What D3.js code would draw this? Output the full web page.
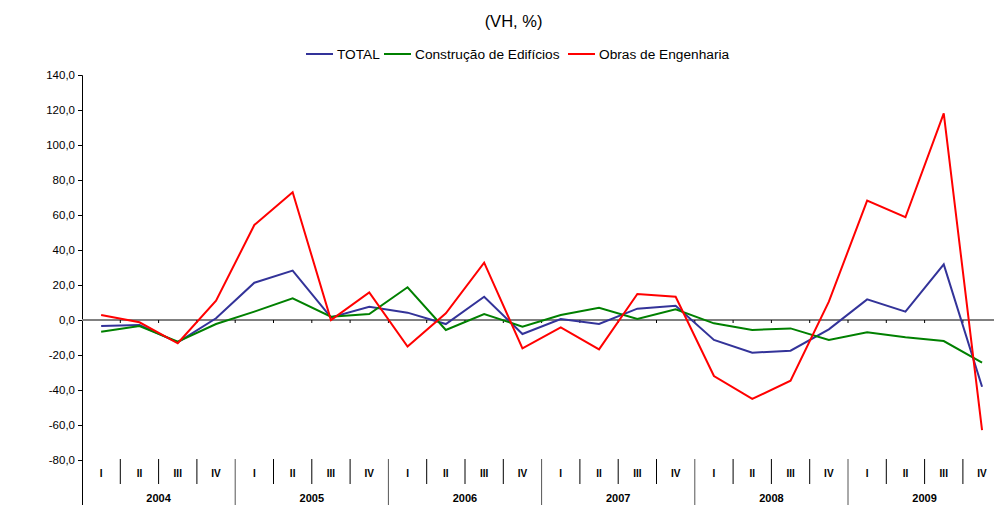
<!DOCTYPE html>
<html>
<head>
<meta charset="utf-8">
<script src="https://cdn.jsdelivr.net/npm/d3@7"></script>
<style>
  body { margin: 0; background: #fff; }
  svg { font-family: Arial, "Liberation Sans", sans-serif; }
</style>
</head>
<body>
<svg width="994" height="505"></svg>
<script>
var years = ["2004", "2005", "2006", "2007", "2008", "2009"]
var quarters = ["I", "II", "III", "IV"]
var seriesNames = ["TOTAL", "Construção de Edifícios", "Obras de Engenharia"]
var yTicks = [-80, -60, -40, -20, 0, 20, 40, 60, 80, 100, 120, 140]

var total = [-3.4, -2.9, -12.8, 1.0, 21.3, 28.2, 1.5, 7.6, 4.2, -2.3, 13.3, -8.0,
             0.6, -2.3, 6.5, 8.2, -11.4, -18.7, -17.5, -5.3, 11.8, 4.8, 31.8, -38.1]
var edificios = [-6.7, -3.4, -12.4, -2.3, 4.8, 12.4, 1.9, 3.4, 18.7, -5.7, 3.4, -3.8,
                 2.9, 7.0, 0.6, 6.1, -1.9, -5.7, -4.8, -11.4, -7.0, -9.9, -12.0, -24.4]
var engenharia = [2.9, -1.3, -13.3, 11.0, 54.3, 73.0, 0.0, 15.8, -15.2, 3.8, 32.8, -16.2,
                  -4.2, -16.8, 14.9, 13.3, -32.0, -45.1, -34.7, 10.5, 68.2, 58.7, 118.1, -62.9]

var colors = ["#333399", "#008000", "#ff0000"]
var series = [total, edificios, engenharia]

// one category per quarter
var cats = []
years.forEach(function(y){ quarters.forEach(function(q){ cats.push(y + "-" + q) }) })

var left = 82, bandW = 38.3
var xs = d3.scaleBand().domain(cats).range([left, left + cats.length * bandW])
var ys = d3.scaleLinear().domain([-105.7, 140]).range([505, 75])

var svg = d3.select("svg")

// title and legend
svg.append("text").attr("x", 513.5).attr("y", 27).attr("text-anchor", "middle")
  .attr("font-size", 16.5).attr("fill", "#000").text("(VH, %)")

var legX = [306, 384, 568]
var leg = svg.append("g")
seriesNames.forEach(function(name, i){
  leg.append("line").attr("x1", legX[i]).attr("x2", legX[i] + 27)
    .attr("y1", 54).attr("y2", 54).attr("stroke", colors[i]).attr("stroke-width", 2)
  leg.append("text").attr("x", legX[i] + 31).attr("y", 58.5)
    .attr("font-size", 13.7).attr("fill", "#000").text(name)
})

// y axis
var yAxis = svg.append("g").attr("transform", "translate(" + left + ",0)")
  .call(d3.axisLeft(ys).tickValues(yTicks).tickSizeOuter(0).tickSize(4).tickPadding(3)
    .tickFormat(function(d){ return d3.format(".1f")(d).replace(".", ",").replace("−", "-") }))
yAxis.select(".domain").attr("stroke", "#000")
yAxis.selectAll("text").attr("font-size", 11.5).attr("fill", "#000").attr("font-family", "Arial, 'Liberation Sans', sans-serif")

// zero line with small ticks at category boundaries
svg.append("line").attr("x1", left).attr("x2", 994).attr("y1", ys(0)).attr("y2", ys(0))
  .attr("stroke", "#808080").attr("stroke-width", 2)
svg.append("g").selectAll("line").data(cats.slice(1)).enter().append("line")
  .attr("x1", function(d){ return xs(d) }).attr("x2", function(d){ return xs(d) })
  .attr("y1", ys(0)).attr("y2", ys(0) + 3)
  .attr("stroke", "#000").attr("stroke-width", 1)

// multi-level category labels
var lab = svg.append("g")
lab.selectAll("text.q").data(cats).enter().append("text").attr("class", "q")
  .attr("x", function(d){ return xs(d) + xs.bandwidth() / 2 }).attr("y", 477)
  .attr("text-anchor", "middle").attr("font-size", 10).attr("font-weight", "bold")
  .text(function(d){ return d.split("-")[1] })
lab.selectAll("line.sep").data(cats.slice(1)).enter().append("line").attr("class", "sep")
  .attr("x1", function(d){ return xs(d) }).attr("x2", function(d){ return xs(d) })
  .attr("y1", 459)
  .attr("y2", function(d){ return d.split("-")[1] == "I" ? 505 : 484 })
  .attr("stroke", function(d){ return d.split("-")[1] == "I" ? "#555" : "#000" })
  .attr("stroke-width", 1)
lab.selectAll("text.y").data(years).enter().append("text").attr("class", "y")
  .attr("x", function(d){ return xs(d + "-I") + 2 * xs.bandwidth() }).attr("y", 502)
  .attr("text-anchor", "middle").attr("font-size", 11).attr("font-weight", "bold")
  .text(function(d){ return d })

// lines
var line = d3.line()
  .x(function(d, i){ return xs(cats[i]) + xs.bandwidth() / 2 })
  .y(function(d){ return ys(d) })
series.forEach(function(s, i){
  svg.append("path").datum(s).attr("d", line).attr("fill", "none")
    .attr("stroke", colors[i]).attr("stroke-width", 2).attr("stroke-linejoin", "miter")
})
</script>
</body>
</html>
